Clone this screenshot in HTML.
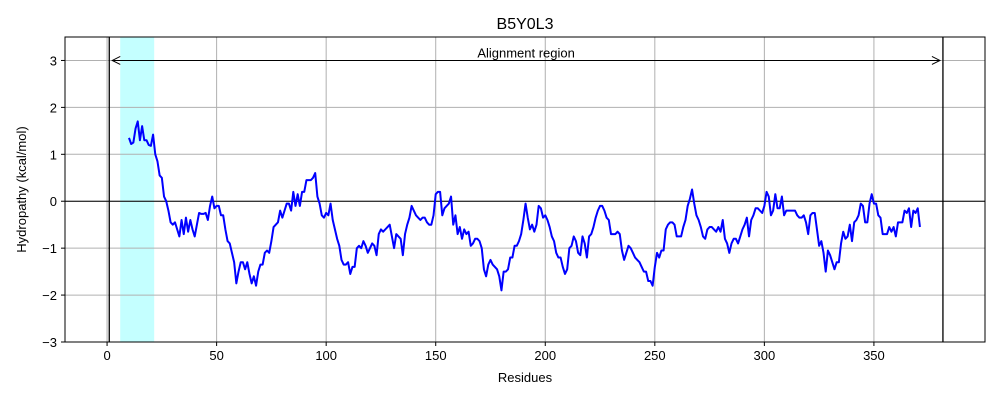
<!DOCTYPE html>
<html><head><meta charset="utf-8"><style>
body{margin:0;background:#fff;font-family:"Liberation Sans",sans-serif}
svg text{font-family:"Liberation Sans",sans-serif;fill:#000}
</style></head><body>
<svg id="chart" width="1000" height="400"></svg>
<script>
const xTicks=[0,50,100,150,200,250,300,350];
const yTicks=[-3,-2,-1,0,1,2,3];
const startResidue=10;
const values=[1.35,1.22,1.25,1.55,1.7,1.3,1.6,1.3,1.3,1.2,1.18,1.42,1.0,0.85,0.55,0.5,0.1,0.0,-0.2,-0.45,-0.5,-0.45,-0.6,-0.75,-0.4,-0.7,-0.35,-0.65,-0.4,-0.6,-0.75,-0.5,-0.25,-0.27,-0.27,-0.25,-0.4,-0.1,0.1,-0.15,-0.1,-0.1,-0.3,-0.3,-0.6,-0.85,-0.9,-1.1,-1.3,-1.75,-1.5,-1.3,-1.3,-1.45,-1.3,-1.55,-1.75,-1.6,-1.8,-1.5,-1.35,-1.35,-1.1,-1.05,-1.1,-0.85,-0.55,-0.5,-0.45,-0.2,-0.35,-0.2,-0.05,-0.05,-0.2,0.2,-0.1,0.15,-0.1,0.2,0.2,0.45,0.45,0.45,0.5,0.6,0.1,-0.05,-0.3,-0.35,-0.25,-0.3,-0.05,-0.4,-0.6,-0.8,-0.95,-1.25,-1.35,-1.35,-1.3,-1.55,-1.4,-1.4,-1.0,-0.95,-1.0,-0.85,-0.95,-1.1,-1.0,-0.9,-0.95,-1.15,-0.7,-0.6,-0.65,-0.6,-0.55,-0.5,-0.75,-1.0,-0.7,-0.75,-0.8,-1.15,-0.7,-0.5,-0.35,-0.1,-0.2,-0.3,-0.35,-0.4,-0.35,-0.35,-0.45,-0.5,-0.5,-0.3,0.15,0.2,0.2,-0.3,-0.15,-0.1,-0.05,0.1,-0.5,-0.3,-0.7,-0.55,-0.8,-0.6,-0.7,-0.65,-0.95,-0.9,-0.8,-0.8,-0.85,-1.0,-1.45,-1.6,-1.35,-1.25,-1.35,-1.4,-1.45,-1.6,-1.9,-1.5,-1.5,-1.45,-1.2,-1.2,-0.95,-0.95,-0.85,-0.7,-0.4,-0.05,-0.35,-0.6,-0.5,-0.65,-0.5,-0.1,-0.15,-0.35,-0.3,-0.4,-0.55,-0.75,-0.85,-1.1,-1.2,-1.2,-1.4,-1.55,-1.45,-1.0,-0.95,-0.75,-0.85,-1.1,-1.15,-0.75,-0.9,-1.2,-0.75,-0.7,-0.55,-0.35,-0.2,-0.1,-0.1,-0.2,-0.35,-0.4,-0.7,-0.7,-0.7,-0.65,-0.7,-1.05,-1.25,-1.1,-0.95,-1.0,-1.1,-1.2,-1.25,-1.3,-1.4,-1.5,-1.5,-1.7,-1.7,-1.8,-1.4,-1.1,-1.2,-1.05,-1.05,-0.6,-0.5,-0.45,-0.45,-0.5,-0.75,-0.75,-0.75,-0.55,-0.4,-0.1,0.05,0.25,-0.05,-0.3,-0.4,-0.55,-0.75,-0.8,-0.6,-0.55,-0.55,-0.6,-0.65,-0.55,-0.65,-0.4,-0.8,-0.9,-1.1,-0.9,-0.8,-0.8,-0.9,-0.75,-0.6,-0.5,-0.35,-0.75,-0.4,-0.3,-0.15,-0.15,-0.2,-0.25,-0.1,0.2,0.1,-0.3,-0.2,0.15,-0.15,-0.15,0.1,-0.3,-0.2,-0.2,-0.2,-0.2,-0.2,-0.3,-0.35,-0.35,-0.3,-0.45,-0.7,-0.3,-0.25,-0.25,-0.6,-0.95,-0.85,-1.1,-1.5,-1.05,-1.15,-1.3,-1.45,-1.3,-1.3,-0.9,-0.65,-0.8,-0.75,-0.5,-0.85,-0.45,-0.4,-0.3,-0.05,-0.1,-0.45,-0.45,-0.05,0.15,-0.05,-0.05,-0.3,-0.35,-0.7,-0.7,-0.7,-0.55,-0.65,-0.55,-0.75,-0.45,-0.45,-0.45,-0.2,-0.25,-0.15,-0.55,-0.2,-0.25,-0.15,-0.55];
const highlight=[6,21.5];
const alignment=[1,381.5];

const L=65,R=985,T=37,B=342,xMin=-19.2,xMax=400.7,yMin=-3,yMax=3.5;
const sx=v=>L+(v-xMin)/(xMax-xMin)*(R-L);
const sy=v=>B-(v-yMin)/(yMax-yMin)*(B-T);
const svg=document.getElementById('chart');
const NS='http://www.w3.org/2000/svg';
function mk(tag,attrs,parent){const e=document.createElementNS(NS,tag);for(const k in attrs)e.setAttribute(k,attrs[k]);(parent||svg).appendChild(e);return e;}
const fmt=t=>t<0?'\u2212'+Math.abs(t):String(t);

let e=mk('rect',{x:sx(highlight[0]),y:T,width:sx(highlight[1])-sx(highlight[0]),height:B-T,fill:'#c4ffff'});



xTicks.forEach(t=>{
 let g=mk('line',{x1:sx(t),x2:sx(t),y1:T,y2:B,stroke:'#b0b0b0','stroke-width':1});
 
 
 mk('line',{x1:sx(t),x2:sx(t),y1:B,y2:B+4,stroke:'#000'});
 let tx=mk('text',{x:sx(t),y:B+18,'text-anchor':'middle','font-size':13});tx.textContent=fmt(t);
 
 
});
yTicks.forEach(t=>{
 let g=mk('line',{x1:L,x2:R,y1:sy(t),y2:sy(t),stroke:'#b0b0b0','stroke-width':1});
 
 
 mk('line',{x1:L-4,x2:L,y1:sy(t),y2:sy(t),stroke:'#000'});
 let tx=mk('text',{x:L-8,y:sy(t)+5,'text-anchor':'end','font-size':13});tx.textContent=fmt(t);
 
 
});
e=mk('line',{x1:L,x2:R,y1:sy(0),y2:sy(0),stroke:'#000','stroke-width':1});


alignment.forEach(a=>{
 let v=mk('line',{x1:sx(a),x2:sx(a),y1:T,y2:B,stroke:'#000','stroke-width':1.3});
 
 
});
const ay=sy(3),ax1=sx(alignment[0])+3,ax2=sx(alignment[1])-3;
e=mk('line',{x1:ax1,x2:ax2,y1:ay,y2:ay,stroke:'#000','stroke-width':1});


mk('path',{d:`M${ax1+8},${ay-4} L${ax1},${ay} L${ax1+8},${ay+4}`,fill:'none',stroke:'#000'});
mk('path',{d:`M${ax2-8},${ay-4} L${ax2},${ay} L${ax2-8},${ay+4}`,fill:'none',stroke:'#000'});
e=mk('text',{x:(ax1+ax2)/2,y:ay-3,'text-anchor':'middle','font-size':13});e.textContent='Alignment region';



const pts=values.map((v,i)=>sx(startResidue+i).toFixed(2)+','+sy(v).toFixed(2)).join(' ');
e=mk('polyline',{points:pts,fill:'none',stroke:'#0000ff','stroke-width':2,'stroke-linejoin':'round'});



e=mk('rect',{x:L,y:T,width:R-L,height:B-T,fill:'none',stroke:'#000','stroke-width':1});


e=mk('text',{x:(L+R)/2,y:29,'text-anchor':'middle','font-size':16});e.textContent='B5Y0L3';


e=mk('text',{x:(L+R)/2,y:382,'text-anchor':'middle','font-size':13});e.textContent='Residues';


e=mk('text',{x:26,y:(T+B)/2,'text-anchor':'middle','font-size':13,transform:`rotate(-90 26 ${(T+B)/2})`});e.textContent='Hydropathy (kcal/mol)';


</script>
</body></html>
